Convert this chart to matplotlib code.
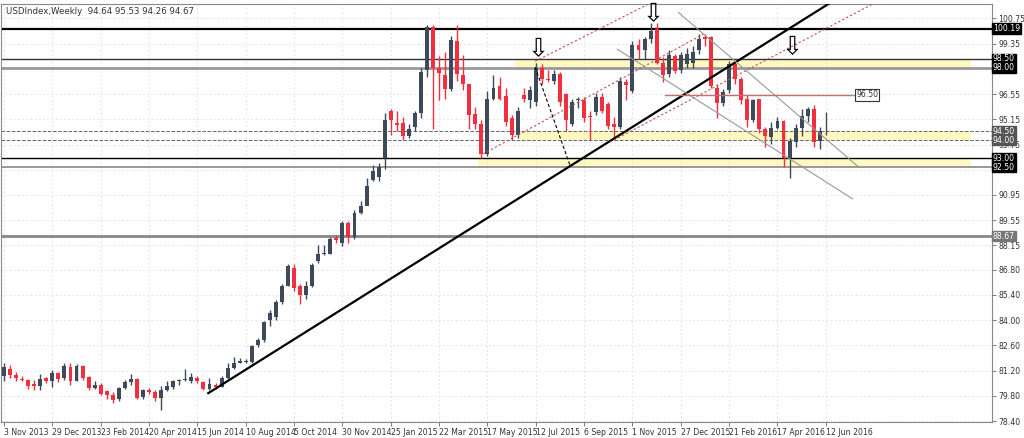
import matplotlib
matplotlib.use("Agg")
import matplotlib.pyplot as plt
import matplotlib.transforms as mtransforms

# weekly candles, 3 Nov 2013 .. 19 Jun 2016
opens = [
    80.9, 81.3, 80.95, 80.75, 80.7, 80.45, 80.35, 80.8, 80.6, 81.05,
    80.8, 81.4, 80.65, 81.45, 80.85, 80.25, 80.4, 80.05, 79.85, 79.6,
    80.25, 80.55, 80.75, 79.75, 80.1, 80.0, 79.7, 80.1, 80.3, 80.62,
    80.68, 80.6, 80.8, 80.55, 80.2, 80.4, 80.3, 80.8, 81.35, 81.65,
    81.68, 81.7, 82.6, 82.9, 84.0, 84.2, 85.0, 85.9, 86.9, 85.9,
    85.4, 85.9, 87.3, 87.65, 87.7, 88.55, 88.3, 89.4, 88.6, 89.95,
    90.35, 91.8, 91.95, 93.0, 95.6, 94.95, 94.95, 94.25, 94.7, 95.5,
    97.9, 100.25, 98.0, 97.6, 96.85, 99.5, 97.6, 97.1, 95.45, 94.9,
    93.2, 96.3, 97.0, 96.45, 95.2, 94.3, 96.5, 96.2, 96.1, 98.0,
    97.4, 97.3, 97.65, 96.55, 94.9, 96.2, 96.2, 95.35, 95.55, 96.4,
    96.0, 94.9, 94.7, 97.2, 96.7, 99.3, 99.0, 99.6, 100.15, 98.3,
    97.65, 98.65, 97.9, 98.2, 98.3, 99.0, 99.7, 99.7, 96.9, 96.05,
    96.75, 98.2, 97.4, 96.3, 95.1, 96.3, 94.6, 94.15, 94.65, 95.05,
    93.0, 93.9, 94.65, 95.35, 95.7, 93.95, 94.64,
]
closes = [
    81.4, 80.95, 80.8, 80.7, 80.35, 80.35, 80.75, 80.6, 81.05, 80.75,
    81.45, 80.6, 81.45, 80.8, 80.25, 80.4, 79.9, 79.85, 79.55, 80.25,
    80.55, 80.75, 79.7, 80.1, 80.0, 79.7, 80.15, 80.35, 80.65, 80.67,
    80.72, 80.85, 80.6, 80.2, 80.45, 80.3, 80.8, 81.35, 81.65, 81.72,
    81.75, 82.55, 82.9, 83.9, 84.4, 85.0, 85.9, 87.0, 85.8, 85.4,
    85.9, 87.05, 87.7, 87.75, 88.5, 88.45, 89.4, 88.6, 89.95, 90.35,
    91.45, 92.3, 92.5, 95.1, 95.1, 94.85, 94.25, 94.6, 95.5, 97.8,
    100.25, 98.0, 97.7, 96.85, 99.55, 97.65, 97.1, 95.4, 94.9, 93.25,
    96.25, 96.9, 96.3, 95.0, 94.3, 95.6, 96.3, 96.8, 98.0, 97.4,
    97.35, 97.65, 96.1, 95.1, 96.1, 96.3, 95.2, 95.3, 96.4, 95.6,
    94.8, 94.7, 97.3, 97.05, 99.25, 99.0, 99.6, 100.05, 98.3, 97.6,
    98.7, 97.85, 98.7, 98.8, 98.9, 99.6, 99.6, 97.0, 96.05, 96.65,
    98.2, 97.4, 96.2, 95.1, 96.2, 94.6, 94.25, 94.65, 95.05, 92.98,
    93.95, 94.65, 95.35, 95.75, 93.9, 94.5, 94.67,
]
highs = [
    81.6, 81.5, 81.1, 80.9, 80.75, 80.7, 81.0, 80.85, 81.25, 81.1,
    81.6, 81.65, 81.55, 81.5, 80.9, 80.6, 80.5, 80.1, 80.0, 80.3,
    80.7, 81.0, 80.8, 80.2, 80.25, 80.15, 80.35, 80.65, 80.7, 80.75,
    81.3, 81.05, 80.9, 80.65, 80.8, 80.5, 80.9, 81.6, 81.95, 81.9,
    81.85, 82.65, 83.0, 83.95, 84.55, 85.1, 86.0, 87.1, 87.1, 86.0,
    86.2, 87.2, 88.2, 88.2, 88.6, 88.75, 89.5, 89.5, 90.1, 90.6,
    91.9, 92.6, 92.7, 95.5, 95.75, 95.6, 95.3, 94.9, 95.6, 98.0,
    100.4, 100.4, 98.65, 98.9, 99.8, 100.4, 98.7, 97.1, 95.85, 95.1,
    96.7, 97.6, 97.5, 96.9, 95.4, 95.85, 96.9, 97.0, 98.3, 98.2,
    97.9, 97.9, 97.8, 96.6, 96.3, 96.4, 96.4, 95.6, 96.6, 96.6,
    96.1, 95.3, 97.5, 97.4, 99.5, 99.6, 99.7, 100.5, 100.5, 98.6,
    99.0, 98.8, 98.9, 99.1, 99.2, 99.9, 99.9, 99.8, 97.1, 96.85,
    98.4, 98.4, 97.5, 96.5, 96.3, 96.3, 94.7, 95.0, 95.3, 95.1,
    94.1, 94.9, 95.7, 95.85, 95.95, 94.7, 95.53,
]
lows = [
    80.6, 80.8, 80.6, 80.6, 80.2, 80.1, 80.1, 80.5, 80.3, 80.55,
    80.7, 80.4, 80.6, 80.7, 80.15, 80.2, 79.85, 79.65, 79.4, 79.5,
    80.2, 80.4, 79.6, 79.65, 79.9, 79.5, 79.0, 80.05, 80.2, 80.4,
    80.6, 80.5, 80.5, 80.1, 80.1, 80.2, 80.3, 80.75, 81.3, 81.6,
    81.6, 81.6, 82.5, 82.8, 83.7, 84.0, 84.9, 85.9, 85.6, 84.9,
    85.2, 85.85, 87.2, 87.6, 87.7, 88.3, 88.1, 88.3, 88.5, 89.9,
    90.4, 91.7, 91.7, 92.4, 94.3, 94.5, 94.0, 94.1, 94.5, 95.2,
    97.5, 94.6, 96.2, 96.3, 96.7, 97.3, 96.8, 94.6, 94.6, 93.0,
    93.1, 96.2, 96.2, 94.8, 94.0, 94.1, 96.1, 95.8, 95.9, 97.1,
    97.2, 97.1, 95.9, 94.5, 94.8, 95.8, 95.0, 94.0, 95.4, 95.5,
    94.6, 94.0, 94.6, 96.2, 96.6, 98.5, 98.5, 99.4, 98.2, 97.2,
    97.5, 97.7, 97.7, 98.0, 98.0, 98.8, 99.2, 96.9, 95.2, 95.9,
    96.6, 97.1, 96.0, 94.7, 95.0, 94.4, 93.6, 93.8, 94.6, 92.5,
    91.9, 93.6, 94.2, 95.0, 93.6, 93.5, 94.26,
]

date_labels = ["3 Nov 2013", "29 Dec 2013", "23 Feb 2014", "20 Apr 2014", "15 Jun 2014",
               "10 Aug 2014", "5 Oct 2014", "30 Nov 2014", "25 Jan 2015", "22 Mar 2015",
               "17 May 2015", "12 Jul 2015", "6 Sep 2015", "1 Nov 2015", "27 Dec 2015",
               "21 Feb 2016", "17 Apr 2016", "12 Jun 2016"]
price_ticks = [100.75, 99.35, 97.95, 96.55, 95.15, 93.75, 92.35, 90.95, 89.55,
               88.15, 86.80, 85.40, 84.00, 82.60, 81.20, 79.80, 78.40]
hidden_ticks = [97.95, 92.35]

# levels: (price, label, colour, box colour, width, style)
levels = [
    (100.19, "100.19", "black", "black", 1.6, "-"),
    (98.50, "98.50", "#333333", "black", 1.0, "-"),
    (98.00, "98.00", "#999999", "black", 2.0, "-"),
    (94.50, "94.50", "#666666", "#555555", 0.7, "--"),
    (94.00, "94.00", "#666666", "#555555", 0.7, "--"),
    (93.00, "93.00", "black", "black", 1.0, "-"),
    (92.50, "92.50", "#888888", "black", 1.2, "-"),
    (88.67, "88.67", "#888888", "#777777", 2.0, "-"),
]
zones = [(98.0, 98.5, 84.6), (94.0, 94.5, 85.4), (92.5, 93.0, 78.5)]

bull = "#3e4a5a"
bear = "#f0303f"
fs = 5.6

fig = plt.figure(figsize=(10.24, 4.38), dpi=100)
ax = fig.add_axes([1 / 1024, 16 / 438, 991 / 1024, 418 / 438])
ax.set_xlim(-0.5, 163.5)
ax.set_ylim(78.35, 101.55)

xt = list(range(0, 8 * len(date_labels), 8))
ax.set_xticks(xt)
ax.set_xticklabels(date_labels, fontsize=fs, color="#333333", ha="left")
ax.yaxis.tick_right()
ax.set_yticks(price_ticks)
ax.set_yticklabels(["" if p in hidden_ticks else "%.2f" % p for p in price_ticks],
                   fontsize=fs, color="#333333")
ax.tick_params(length=3, width=0.6, color="#666666", pad=1.5)
ax.grid(True, color="#dcdcdc", linestyle=(0, (2, 3)), linewidth=0.6)
for s in ax.spines.values():
    s.set_color("#888888")
    s.set_linewidth(0.8)

# zones and levels
for lo, hi, start in zones:
    ax.fill_between([start, 160], lo, hi, color="#fff8c0", zorder=1, linewidth=0)
trans = mtransforms.blended_transform_factory(ax.transAxes, ax.transData)
for p, lab, col, box, lw, ls in levels:
    ax.axhline(p, color=col, linewidth=lw, linestyle=ls, zorder=2)
    ax.text(1.001, p, lab, transform=trans, fontsize=fs, color="white", va="center",
            ha="left", bbox=dict(boxstyle="square,pad=0.12", fc=box, ec=box), zorder=6,
            clip_on=False)

# candles
for i in range(len(closes)):
    o, c, h, l = opens[i], closes[i], highs[i], lows[i]
    col = bull if c >= o else bear
    ax.vlines(i, l, h, color=col, linewidth=1, zorder=3)
    ax.bar(i, max(abs(c - o), 0.04), bottom=min(o, c), width=0.65, color=col,
           linewidth=0, zorder=4)

# trend lines and channels
ax.plot([33.8, 136.8], [79.95, 101.63], color="black", linewidth=1.6, zorder=5)
for xs, ys in [([87.9, 106.5], [98.37, 101.52]),
               ([79.3, 115.7], [93.23, 99.87]),
               ([100.3, 144.2], [93.89, 101.63])]:
    ax.plot(xs, ys, color="#c05050", linewidth=0.8, linestyle=(0, (2, 2)), zorder=5)
ax.plot([111.6, 141.4], [101.08, 92.51], color="#999999", linewidth=0.8, zorder=5)
ax.plot([101.5, 140.4], [99.04, 90.74], color="#999999", linewidth=0.8, zorder=5)
ax.plot([87.9, 93.7], [98.04, 92.56], color="black", linewidth=0.8, linestyle=(0, (3, 2)),
        zorder=5)
ax.plot([109.4, 140.0], [96.5, 96.5], color="#c07070", linewidth=1.0, zorder=5)
ax.plot([140.0, 141.0], [96.5, 96.5], color="#999999", linewidth=1.0, zorder=5)
ax.text(141.0, 96.5, "96.50", fontsize=fs, va="center", ha="left", color="#333333",
        bbox=dict(boxstyle="square,pad=0.15", fc="white", ec="#333333", lw=0.8), zorder=6)

for ax_x, ax_y in [(88.4, 99.04), (107.5, 100.97), (130.5, 99.15)]:
    ax.text(ax_x, ax_y, "\u21e9", fontsize=18, ha="center", va="center", zorder=7)

fig.text(6 / 1024, 1 - 11 / 438, "USDIndex,Weekly  94.64 95.53 94.26 94.67", fontsize=6.2,
         color="#333333", va="center")

fig.savefig("out.png", dpi=100)
